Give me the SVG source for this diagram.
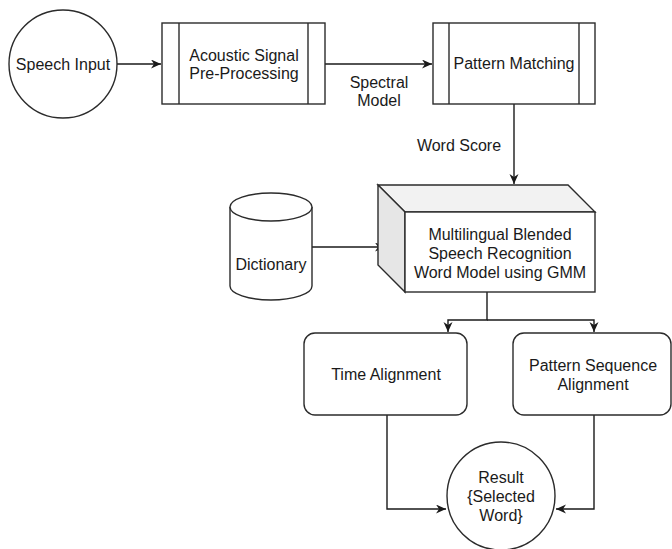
<svg xmlns="http://www.w3.org/2000/svg" width="672" height="549" viewBox="0 0 672 549">
  <style>
    .shape { fill: #ffffff; stroke: #2b2b2b; stroke-width: 1.4; }
    .edge { fill: none; stroke: #1a1a1a; stroke-width: 1.4; }
    text { font-family: "Liberation Sans", Arial, sans-serif; font-size: 16px; fill: #1a1a1a; text-anchor: middle; dominant-baseline: central; }
  </style>
  <defs>
    <marker id="arrow" markerUnits="userSpaceOnUse" markerWidth="12" markerHeight="10" refX="10" refY="4.5" orient="auto">
      <path d="M0,0 L10,4.5 L0,9 L3,4.5 Z" fill="#1a1a1a"/>
    </marker>
  </defs>

  <rect width="672" height="549" fill="#ffffff"/>

  <!-- connectors -->
  <g id="connectors">
    <path class="edge" d="M117,64 H161" marker-end="url(#arrow)"/>
    <path class="edge" d="M325,64 H432" marker-end="url(#arrow)"/>
    <path class="edge" d="M514,104 V184" marker-end="url(#arrow)"/>
    <path class="edge" d="M312,247 H385" marker-end="url(#arrow)"/>
    <path class="edge" d="M487,292 V320 H448 V332" marker-end="url(#arrow)"/>
    <path class="edge" d="M487,320 H594 V332" marker-end="url(#arrow)"/>
    <path class="edge" d="M387,415 V509 H446" marker-end="url(#arrow)"/>
    <path class="edge" d="M594,415 V509 H556" marker-end="url(#arrow)"/>
    <text x="379" y="82">Spectral</text>
    <text x="379" y="100">Model</text>
    <text x="459" y="145">Word Score</text>
  </g>

  <!-- speech input -->
  <g id="speech-input">
    <circle class="shape" cx="63" cy="64" r="54"/>
    <text x="63" y="64">Speech Input</text>
  </g>

  <!-- acoustic pre-processing -->
  <g id="acoustic-preprocessing">
    <rect class="shape" x="162" y="23" width="163" height="81"/>
    <line class="shape" x1="179" y1="23" x2="179" y2="104"/>
    <line class="shape" x1="308" y1="23" x2="308" y2="104"/>
    <text x="244" y="55">Acoustic Signal</text>
    <text x="244" y="73">Pre-Processing</text>
  </g>

  <!-- pattern matching -->
  <g id="pattern-matching">
    <rect class="shape" x="433" y="23" width="162" height="81"/>
    <line class="shape" x1="449" y1="23" x2="449" y2="104"/>
    <line class="shape" x1="579" y1="23" x2="579" y2="104"/>
    <text x="514" y="63">Pattern Matching</text>
  </g>

  <!-- dictionary store -->
  <g id="dictionary">
    <path class="shape" d="M230,207 A41,14 0 0 1 312,207 V286 A41,14 0 0 1 230,286 Z"/>
    <path class="shape" fill="none" d="M230,207 A41,14 0 0 0 312,207"/>
    <text x="271" y="264">Dictionary</text>
  </g>

  <!-- word model cube -->
  <g id="word-model">
    <path d="M378,185 H568 L595,212 H405 Z" fill="#f2f2f2" stroke="#2b2b2b" stroke-width="1.4"/>
    <path d="M378,185 L405,212 V292 L378,265 Z" fill="#e6e6e6" stroke="#2b2b2b" stroke-width="1.4"/>
    <rect class="shape" x="405" y="212" width="190" height="80"/>
    <text x="500" y="234">Multilingual Blended</text>
    <text x="500" y="253">Speech Recognition</text>
    <text x="500" y="272">Word Model using GMM</text>
  </g>

  <!-- time alignment -->
  <g id="time-alignment">
    <rect class="shape" x="304" y="333" width="163" height="82" rx="11"/>
    <text x="386" y="374">Time Alignment</text>
  </g>

  <!-- pattern sequence alignment -->
  <g id="pattern-sequence-alignment">
    <rect class="shape" x="513" y="333" width="158" height="82" rx="11"/>
    <text x="593" y="365">Pattern Sequence</text>
    <text x="593" y="384">Alignment</text>
  </g>

  <!-- result -->
  <g id="result">
    <circle class="shape" cx="501" cy="496" r="54"/>
    <text x="501" y="477">Result</text>
    <text x="501" y="496">{Selected</text>
    <text x="501" y="515">Word}</text>
  </g>
</svg>
